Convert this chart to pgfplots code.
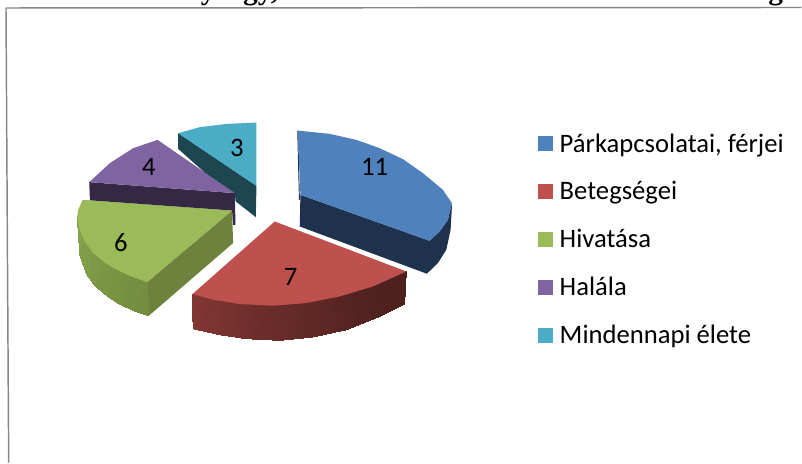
\documentclass[border=0pt]{standalone}
\usepackage{fontspec}
\setmainfont{Carlito}
\newfontfamily\titlefont{Liberation Serif}
\usepackage{pgfplots}
\pgfplotsset{compat=1.18}

\definecolor{cBlue}{RGB}{79,129,189}
\definecolor{cRed}{RGB}{190,80,77}
\definecolor{cGreen}{RGB}{155,187,89}
\definecolor{cPurple}{RGB}{128,100,162}
\definecolor{cCyan}{RGB}{75,172,198}
\definecolor{sBlue}{RGB}{30,50,78}
\definecolor{sGreen}{RGB}{110,130,62}
\definecolor{sPurple}{RGB}{52,40,68}
\definecolor{sCyan}{RGB}{30,70,80}
\definecolor{frame}{RGB}{134,134,134}

\begin{document}
\begin{tikzpicture}
\begin{axis}[
    scale only axis,
    width=601.5pt, height=347.25pt,
    xmin=0, xmax=802, ymin=0, ymax=463,
    y dir=reverse,
    hide axis,
    clip=false,
    legend cell align=left,
    legend style={at={(axis cs:538.3,133.5)}, anchor=north west, draw=none, fill=none,
        font=\fontsize{20}{24}\selectfont, row sep=20.6pt, inner sep=0pt,
        nodes={inner ysep=0pt, inner xsep=5pt, anchor=west}},
    legend image code/.code={\fill[#1] (0pt,-5.6pt) rectangle (11.25pt,5.6pt);},
]
% keeps the whole axis box on the page
\path (axis cs:0,0) rectangle (axis cs:802,463);

% frame
\addplot[frame, line width=1.1pt, forget plot] coordinates {(6,8) (802,7.5)};
\addplot[frame, line width=1.1pt, forget plot] coordinates {(6,8) (8.7,463)};

% 11: side wall, then top
\addplot[fill=sBlue, draw=none, forget plot] coordinates {(300.7,195) (430,241) (440,231.7) (448.3,220) (452.3,203.3) (452.3,207) (451,230) (446.7,250) (438.3,263.3) (427.3,274) (300,226.7)} --cycle;
\addplot[sBlue, line width=0.7pt, forget plot] coordinates {(298,131) (299.7,200)};
\addplot[fill=cBlue, draw=none] coordinates {(300.7,195) (298,130.7) (330,134) (356.7,140) (380,148.3) (403.3,159.3) (423.3,173.3) (443.3,190) (452.3,203.3) (448.3,220) (440,231.7) (430,241)} --cycle;
\addlegendentry{Párkapcsolatai, férjei}

% 7: wall with left to right shading
\addplot[patch, patch type=rectangle, shader=interp, mesh/color input=explicit, forget plot] table[meta=c] {
x y c
192.7 294.3 rgb=.510,.216,.204
213.3 300.0 rgb=.477,.202,.191
220.0 335.0 rgb=.477,.202,.191
193.3 329.0 rgb=.510,.216,.204
213.3 300.0 rgb=.477,.202,.191
240.0 304.3 rgb=.445,.188,.177
246.7 339.0 rgb=.445,.188,.177
220.0 335.0 rgb=.477,.202,.191
240.0 304.3 rgb=.445,.188,.177
273.3 306.0 rgb=.412,.174,.164
280.0 340.7 rgb=.412,.174,.164
246.7 339.0 rgb=.445,.188,.177
273.3 306.0 rgb=.412,.174,.164
306.7 303.3 rgb=.380,.160,.150
313.3 337.3 rgb=.380,.160,.150
280.0 340.7 rgb=.412,.174,.164
306.7 303.3 rgb=.380,.160,.150
340.0 296.7 rgb=.347,.146,.137
346.7 330.0 rgb=.347,.146,.137
313.3 337.3 rgb=.380,.160,.150
340.0 296.7 rgb=.347,.146,.137
373.3 286.7 rgb=.315,.132,.123
380.0 316.7 rgb=.315,.132,.123
346.7 330.0 rgb=.347,.146,.137
373.3 286.7 rgb=.315,.132,.123
406.7 271.7 rgb=.300,.125,.115
405.0 304.3 rgb=.300,.125,.115
380.0 316.7 rgb=.315,.132,.123
};
\addplot[fill=cRed, draw=none] coordinates {(275,221.7) (406.7,271.7) (373.3,286.7) (340,296.7) (306.7,303.3) (273.3,306) (240,304.3) (213.3,300) (192.7,294.3)} --cycle;
\addlegendentry{Betegségei}

% 6: inner wall, outer wall, top
\addplot[fill=sGreen, draw=none, forget plot] coordinates {(232.3,210.7) (147.3,282.3) (149,316) (233.3,243.3)} --cycle;
\addplot[patch, patch type=rectangle, shader=interp, mesh/color input=explicit, forget plot] table[meta=c] {
x y c
77.3 216.7 rgb=.52,.64,.30
79.0 228.0 rgb=.51,.63,.29
80.0 256.0 rgb=.51,.63,.29
77.3 216.7 rgb=.52,.64,.30
79.0 228.0 rgb=.51,.63,.29
85.0 242.0 rgb=.50,.62,.29
87.0 275.0 rgb=.50,.62,.29
80.0 256.0 rgb=.51,.63,.29
85.0 242.0 rgb=.50,.62,.29
93.3 253.3 rgb=.49,.60,.28
95.0 286.0 rgb=.49,.60,.28
87.0 275.0 rgb=.50,.62,.29
93.3 253.3 rgb=.49,.60,.28
105.0 263.0 rgb=.48,.59,.27
107.0 296.0 rgb=.48,.59,.27
95.0 286.0 rgb=.49,.60,.28
105.0 263.0 rgb=.48,.59,.27
116.7 270.0 rgb=.47,.58,.26
119.0 304.0 rgb=.47,.58,.26
107.0 296.0 rgb=.48,.59,.27
116.7 270.0 rgb=.47,.58,.26
132.0 277.0 rgb=.46,.56,.26
134.0 311.0 rgb=.46,.56,.26
119.0 304.0 rgb=.47,.58,.26
132.0 277.0 rgb=.46,.56,.26
147.3 282.3 rgb=.45,.55,.25
149.0 316.0 rgb=.45,.55,.25
134.0 311.0 rgb=.46,.56,.26
};
\addplot[fill=cGreen, draw=none] coordinates {(232.3,210.7) (82.7,200) (78.3,210) (77.3,216.7) (79,228) (85,242) (93.3,253.3) (105,263) (116.7,270) (132,277) (147.3,282.3)} --cycle;
\addlegendentry{Hivatása}

% 4
\addplot[fill=sPurple, draw=none, forget plot] coordinates {(89.3,182.3) (235,193.3) (235.7,225) (233.3,225) (232.3,210.7) (90,200.5)} --cycle;
\addplot[fill=cPurple, draw=none] coordinates {(235,193.3) (157.7,140) (133.3,148.3) (110,163.3) (89.3,182.3)} --cycle;
\addlegendentry{Halála}

% 3
\addplot[fill=sCyan, draw=none, forget plot] coordinates {(178.3,133.3) (256.7,186) (256,217.3) (235.8,201.5) (235,193.3) (205,172.7) (178.3,149)} --cycle;
\addplot[fill=cCyan, draw=none] coordinates {(256.7,186) (178.3,133.3) (200,127.3) (226.7,124) (256.7,122.7)} --cycle;
\addlegendentry{Mindennapi élete}

% value labels
\addplot[draw=none, forget plot, point meta=explicit symbolic, nodes near coords,
    nodes near coords style={anchor=center, inner sep=0pt, font=\fontsize{20}{24}\selectfont}]
    coordinates {(375,167) [11] (291,277) [7] (121,243) [6] (149,167) [4] (237,148) [3]};

% line above the chart, cut off by the page edge
\node[overlay, anchor=base west, inner sep=0pt, font=\titlefont\bfseries\fontsize{22}{26}\selectfont] at (axis cs:8,0) {a};
\node[overlay, anchor=base west, inner sep=0pt, font=\titlefont\bfseries\fontsize{22}{26}\selectfont] at (axis cs:112,0) {Ábel György, életének témakörei};
\node[overlay, anchor=base west, inner sep=0pt, font=\titlefont\bfseries\fontsize{22}{26}\selectfont] at (axis cs:728,0) {Megoszlása};
\end{axis}
\end{tikzpicture}
\end{document}
